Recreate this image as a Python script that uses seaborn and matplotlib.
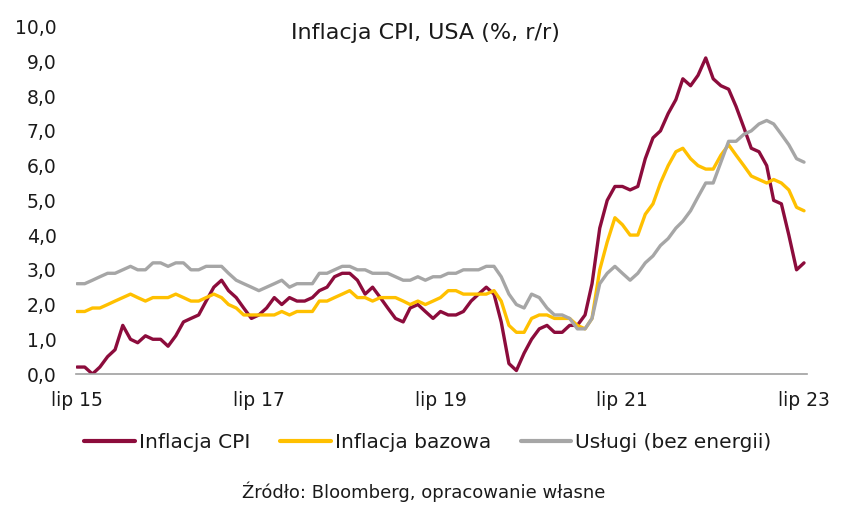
import matplotlib
matplotlib.use("Agg")
import matplotlib.pyplot as plt
import numpy as np
import pandas as pd
import seaborn as sns

# ---- data (monthly, Jul 2015 - Jul 2023, % y/y) ----
start_month = "2015-07-01"
cpi = [0.2, 0.2, 0.0, 0.2, 0.5, 0.7, 1.4, 1.0, 0.9, 1.1, 1.0, 1.0,
       0.8, 1.1, 1.5, 1.6, 1.7, 2.1, 2.5, 2.7, 2.4, 2.2, 1.9, 1.6,
       1.7, 1.9, 2.2, 2.0, 2.2, 2.1, 2.1, 2.2, 2.4, 2.5, 2.8, 2.9,
       2.9, 2.7, 2.3, 2.5, 2.2, 1.9, 1.6, 1.5, 1.9, 2.0, 1.8, 1.6,
       1.8, 1.7, 1.7, 1.8, 2.1, 2.3, 2.5, 2.3, 1.5, 0.3, 0.1, 0.6,
       1.0, 1.3, 1.4, 1.2, 1.2, 1.4, 1.4, 1.7, 2.6, 4.2, 5.0, 5.4,
       5.4, 5.3, 5.4, 6.2, 6.8, 7.0, 7.5, 7.9, 8.5, 8.3, 8.6, 9.1,
       8.5, 8.3, 8.2, 7.7, 7.1, 6.5, 6.4, 6.0, 5.0, 4.9, 4.0, 3.0,
       3.2]
core = [1.8, 1.8, 1.9, 1.9, 2.0, 2.1, 2.2, 2.3, 2.2, 2.1, 2.2, 2.2,
        2.2, 2.3, 2.2, 2.1, 2.1, 2.2, 2.3, 2.2, 2.0, 1.9, 1.7, 1.7,
        1.7, 1.7, 1.7, 1.8, 1.7, 1.8, 1.8, 1.8, 2.1, 2.1, 2.2, 2.3,
        2.4, 2.2, 2.2, 2.1, 2.2, 2.2, 2.2, 2.1, 2.0, 2.1, 2.0, 2.1,
        2.2, 2.4, 2.4, 2.3, 2.3, 2.3, 2.3, 2.4, 2.1, 1.4, 1.2, 1.2,
        1.6, 1.7, 1.7, 1.6, 1.6, 1.6, 1.4, 1.3, 1.6, 3.0, 3.8, 4.5,
        4.3, 4.0, 4.0, 4.6, 4.9, 5.5, 6.0, 6.4, 6.5, 6.2, 6.0, 5.9,
        5.9, 6.3, 6.6, 6.3, 6.0, 5.7, 5.6, 5.5, 5.6, 5.5, 5.3, 4.8,
        4.7]
services = [2.6, 2.6, 2.7, 2.8, 2.9, 2.9, 3.0, 3.1, 3.0, 3.0, 3.2, 3.2,
            3.1, 3.2, 3.2, 3.0, 3.0, 3.1, 3.1, 3.1, 2.9, 2.7, 2.6, 2.5,
            2.4, 2.5, 2.6, 2.7, 2.5, 2.6, 2.6, 2.6, 2.9, 2.9, 3.0, 3.1,
            3.1, 3.0, 3.0, 2.9, 2.9, 2.9, 2.8, 2.7, 2.7, 2.8, 2.7, 2.8,
            2.8, 2.9, 2.9, 3.0, 3.0, 3.0, 3.1, 3.1, 2.8, 2.3, 2.0, 1.9,
            2.3, 2.2, 1.9, 1.7, 1.7, 1.6, 1.3, 1.3, 1.6, 2.6, 2.9, 3.1,
            2.9, 2.7, 2.9, 3.2, 3.4, 3.7, 3.9, 4.2, 4.4, 4.7, 5.1, 5.5,
            5.5, 6.1, 6.7, 6.7, 6.9, 7.0, 7.2, 7.3, 7.2, 6.9, 6.6, 6.2,
            6.1]
series_names = ["Inflacja CPI", "Inflacja bazowa", "Usługi (bez energii)"]
series_colors = ["#8C0C3C", "#FFC000", "#A6A6A6"]
tick_dates = ["2015-07-01", "2017-07-01", "2019-07-01", "2021-07-01", "2023-07-01"]
tick_labels = ["lip 15", "lip 17", "lip 19", "lip 21", "lip 23"]
y_ticks = [0, 1, 2, 3, 4, 5, 6, 7, 8, 9, 10]
title = "Inflacja CPI, USA (%, r/r)"
source = "Źródło: Bloomberg, opracowanie własne"

dates = pd.date_range(start_month, periods=len(cpi), freq="MS")
df = pd.concat([
    pd.DataFrame({"date": dates, "value": vals, "series": name})
    for name, vals in zip(series_names, [cpi, core, services])
], ignore_index=True)

sns.set_theme(style="white")
plt.rcParams["font.family"] = ["DejaVu Sans"]
text_color = "#1a1a1a"

fig = plt.figure(figsize=(8.42, 5.09), dpi=100)
ax = fig.add_axes([76 / 842, 1 - 374 / 509, (807 - 76) / 842, (374 - 26.7) / 509])

sns.lineplot(data=df, x="date", y="value", hue="series", hue_order=series_names,
             palette=dict(zip(series_names, series_colors)), linewidth=2.4,
             ax=ax, legend=True)
handles, labels = ax.get_legend_handles_labels()
ax.get_legend().remove()

ax.set_ylim(0, 10)
ax.set_xlim(dates[0] - pd.Timedelta(days=4), dates[-1] + pd.Timedelta(days=12))
ax.set_yticks(y_ticks)
ax.set_yticklabels([f"{v:.1f}".replace(".", ",") for v in y_ticks])
ax.set_xticks(pd.to_datetime(tick_dates))
ax.set_xticklabels(tick_labels)
ax.set_xlabel("")
ax.set_ylabel("")
ax.tick_params(axis="y", length=0, pad=14, labelsize=13.5, labelcolor=text_color)
ax.tick_params(axis="x", length=0, pad=12, labelsize=13.5, labelcolor=text_color)
for s in ["top", "right", "left"]:
    ax.spines[s].set_visible(False)
ax.spines["bottom"].set_color("#A0A0A0")
ax.spines["bottom"].set_linewidth(1.2)
ax.grid(False)

fig.text(425 / 842, 1 - 33 / 509, title, ha="center", va="center",
         fontsize=16, color=text_color)

for h in handles:
    h.set_linewidth(3)
fig.legend(handles, labels, loc="center", bbox_to_anchor=(428 / 842, 1 - 443 / 509),
           ncol=3, frameon=False, fontsize=14.5, handlelength=2.5,
           handletextpad=0.2, columnspacing=1.5, labelcolor=text_color)

fig.text(424 / 842, 1 - 492 / 509, source, ha="center", va="center",
         fontsize=13, color=text_color)

fig.savefig("out.png", dpi=100, facecolor="white")
